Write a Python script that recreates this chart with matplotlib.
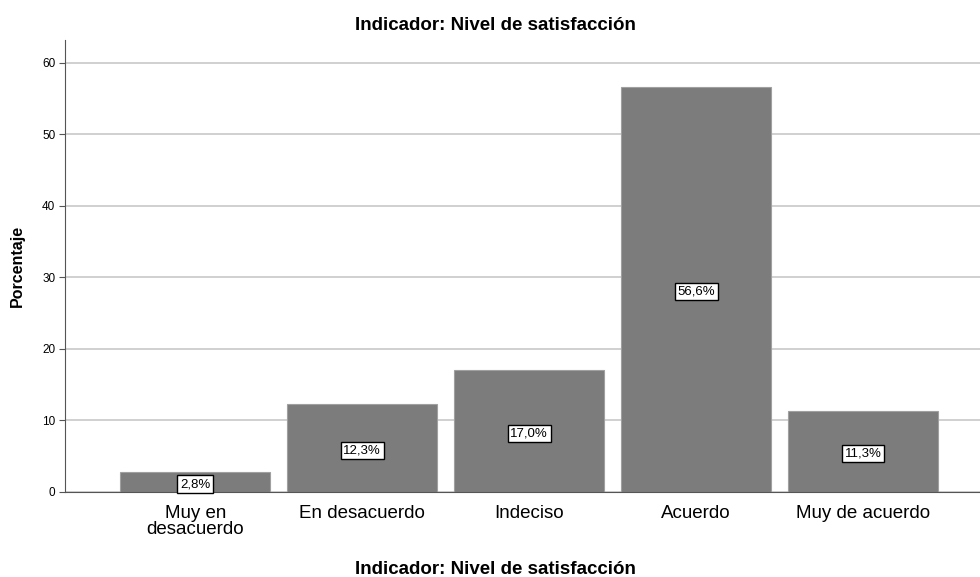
import matplotlib
matplotlib.use("Agg")
import matplotlib.pyplot as plt

categories = ["Muy en\ndesacuerdo", "En desacuerdo", "Indeciso", "Acuerdo", "Muy de acuerdo"]
values = [2.8, 12.3, 17.0, 56.6, 11.3]
labels = ["2,8%", "12,3%", "17,0%", "56,6%", "11,3%"]
yticks = [0, 10, 20, 30, 40, 50, 60]

plt.rcParams['font.family'] = ['Liberation Sans', 'DejaVu Sans']

fig = plt.figure(figsize=(9.8, 5.77), dpi=100)
ax = fig.add_axes([65/980, 1-492/577, (980-65)/980, (492-40)/577])

x = list(range(len(categories)))
ax.set_axisbelow(True)
ax.yaxis.grid(True, color='#c8c8c8', linewidth=1.2)
ax.bar(x, values, width=0.9, color='#7c7c7c', edgecolor='#a0a0a0', linewidth=0.8, zorder=2)
for xi, v, lab in zip(x, values, labels):
    ax.text(xi, v/2 - 0.3, lab, ha='center', va='center', fontsize=9.5, zorder=3,
            bbox=dict(boxstyle='square,pad=0.2', facecolor='white', edgecolor='black', linewidth=1.0))

ax.set_xlim(-0.78, 4.7)
ax.set_ylim(0, 63.2)
ax.set_yticks(yticks)
ax.set_yticklabels([str(t) for t in yticks], fontsize=8.5)
ax.set_xticks(x)
ax.set_xticklabels(categories, fontsize=13.5, linespacing=1.0)
ax.tick_params(axis='x', length=0, pad=9)
ax.tick_params(axis='y', length=4, width=0.8, color='#555555', pad=3)
for s in ['top', 'right']:
    ax.spines[s].set_visible(False)
ax.spines['left'].set_color('#555555')
ax.spines['bottom'].set_color('#555555')
ax.set_ylabel('Porcentaje', fontsize=11.5, fontweight='bold', labelpad=12)
fig.text(495/980, 1-570/577, 'Indicador: Nivel de satisfacción', ha='center', va='center',
         fontsize=13.5, fontweight='bold')
fig.text(495/980, 1-26/577, 'Indicador: Nivel de satisfacción', ha='center', va='center',
         fontsize=13.5, fontweight='bold')

fig.savefig('out.png', dpi=100)
